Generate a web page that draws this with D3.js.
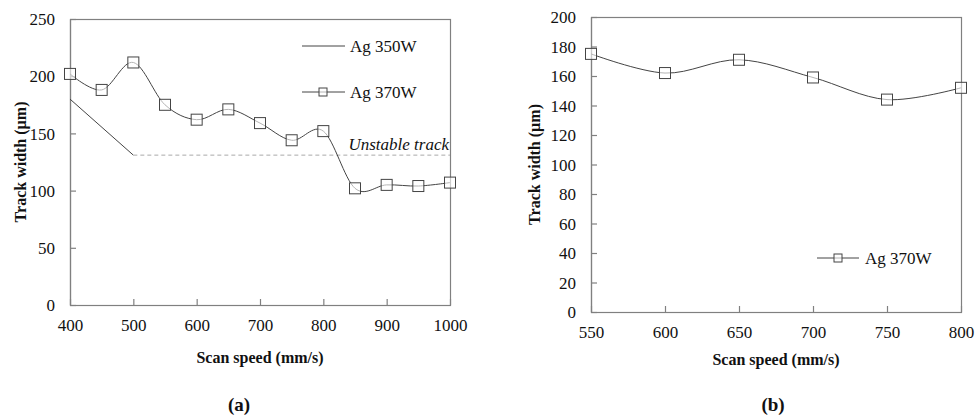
<!DOCTYPE html>
<html>
<head>
<meta charset="utf-8">
<script src="https://cdn.jsdelivr.net/npm/d3@7"></script>
<style>
  body { margin: 0; background: #fff; }
  svg, svg text { font-family: "Liberation Serif", "Times New Roman", Times, "DejaVu Serif", serif !important; }
</style>
</head>
<body>
<div id="chart"></div>
<script>
// Data
var speedsA = [400, 450, 500, 550, 600, 650, 700, 750, 800, 850, 900, 950, 1000];
var width370 = [202, 188, 212, 175, 162, 171, 159, 144, 152, 102, 105, 104, 107];
var speeds350 = [400, 500];
var width350 = [180, 131];
var unstableLevel = 131;
var unstableFrom = 500;
var unstableTo = 1000;

var speedsB = [550, 600, 650, 700, 750, 800];
var widthB = [175, 162, 171, 159, 144, 152];

var xTicksA = [400, 500, 600, 700, 800, 900, 1000];
var yTicksA = [0, 50, 100, 150, 200, 250];
var xTicksB = [550, 600, 650, 700, 750, 800];
var yTicksB = [0, 20, 40, 60, 80, 100, 120, 140, 160, 180, 200];

var svgWidth = 976;
var svgHeight = 419;

var axisColor = "#808080";
var lineColor = "#444";
var serif = "'Liberation Serif', 'Times New Roman', Times, 'DejaVu Serif', serif";

var svg = d3.select("#chart")
  .append("svg")
  .attr("width", svgWidth)
  .attr("height", svgHeight)
  .attr("font-family", serif);

// draws a boxed panel with inward ticks, returns scales + group
function drawPanel(opts) {
  var x = d3.scaleLinear().domain(opts.xDomain).range([opts.left, opts.right]);
  var y = d3.scaleLinear().domain(opts.yDomain).range([opts.bottom, opts.top]);
  var g = svg.append("g");

  // frame
  g.append("rect")
    .attr("x", opts.left + 0.5)
    .attr("y", opts.top + 0.5)
    .attr("width", opts.right - opts.left)
    .attr("height", opts.bottom - opts.top)
    .attr("fill", "none")
    .attr("stroke", axisColor)
    .attr("stroke-width", 1.2);

  var xAxis = d3.axisBottom(x).tickValues(opts.xTicks).tickFormat(d3.format("d"))
    .tickSizeInner(-6).tickSizeOuter(0).tickPadding(14);
  var yAxis = d3.axisLeft(y).tickValues(opts.yTicks).tickFormat(d3.format("d"))
    .tickSizeInner(-6).tickSizeOuter(0).tickPadding(15);

  var gx = g.append("g")
    .attr("transform", `translate(0, ${opts.bottom})`)
    .call(xAxis);
  var gy = g.append("g")
    .attr("transform", `translate(${opts.left}, 0)`)
    .call(yAxis);

  [gx, gy].forEach(function(a) {
    a.attr("font-family", serif).attr("font-size", 17);
    a.select(".domain").attr("stroke", axisColor).attr("stroke-width", 1.2);
    a.selectAll(".tick line").attr("stroke", axisColor).attr("stroke-width", 1.2);
    a.selectAll(".tick text").attr("fill", "#111");
  });
  gy.selectAll(".tick text").attr("dy", "0.34em");

  // axis titles
  g.append("text")
    .attr("x", (opts.left + opts.right) / 2)
    .attr("y", opts.xTitleY)
    .attr("text-anchor", "middle")
    .attr("font-weight", "bold")
    .attr("font-size", "16px")
    .attr("fill", "#111")
    .text("Scan speed (mm/s)");

  g.append("text")
    .attr("transform", `translate(${opts.yTitleX}, ${(opts.top + opts.bottom) / 2}) rotate(-90)`)
    .attr("text-anchor", "middle")
    .attr("dy", "0.35em")
    .attr("font-weight", "bold")
    .attr("font-size", "16px")
    .attr("fill", "#111")
    .text("Track width (\u00b5m)");

  g.append("text")
    .attr("x", opts.captionX)
    .attr("y", 411)
    .attr("text-anchor", "middle")
    .attr("font-weight", "bold")
    .attr("font-size", "19px")
    .attr("fill", "#111")
    .text(opts.caption);

  return { x: x, y: y, g: g };
}

function drawMarkers(g, xs, ys, size) {
  g.selectAll(null)
    .data(xs.map(function(d, i) { return [d, ys[i]]; }))
    .enter()
    .append("rect")
    .attr("x", d => d[0] - size / 2)
    .attr("y", d => d[1] - size / 2)
    .attr("width", size)
    .attr("height", size)
    .attr("fill", "#fff")
    .attr("fill-opacity", 0.6)
    .attr("stroke", lineColor)
    .attr("stroke-width", 1);
}

var smooth = d3.line().curve(d3.curveCardinal.tension(0));

// Panel (a)
// ==============================
var pa = drawPanel({
  left: 70, right: 450, top: 19, bottom: 305,
  xDomain: [400, 1000], yDomain: [0, 250],
  xTicks: xTicksA, yTicks: yTicksA,
  xTitleY: 363, yTitleX: 20, captionX: 239, caption: "(a)"
});

// 350W straight line then unstable dashed level
pa.g.append("path")
  .attr("d", d3.line()(speeds350.map((d, i) => [pa.x(d), pa.y(width350[i])])))
  .attr("fill", "none")
  .attr("stroke", lineColor)
  .attr("stroke-width", 1);

pa.g.append("line")
  .attr("x1", pa.x(unstableFrom))
  .attr("x2", pa.x(unstableTo))
  .attr("y1", pa.y(unstableLevel))
  .attr("y2", pa.y(unstableLevel))
  .attr("stroke", "#aaa")
  .attr("stroke-width", 1)
  .attr("stroke-dasharray", "4,3");

pa.g.append("text")
  .attr("x", pa.x(unstableTo) - 1)
  .attr("y", pa.y(unstableLevel) - 5)
  .attr("text-anchor", "end")
  .attr("font-style", "italic")
  .attr("font-size", "17px")
  .attr("fill", "#111")
  .text("Unstable track");

var ptsA = speedsA.map((d, i) => [pa.x(d), pa.y(width370[i])]);
pa.g.append("path")
  .attr("d", smooth(ptsA))
  .attr("fill", "none")
  .attr("stroke", lineColor)
  .attr("stroke-width", 1);
drawMarkers(pa.g, ptsA.map(p => p[0]), ptsA.map(p => p[1]), 11);

// legend (a)
var legA = pa.g.append("g");
legA.append("line").attr("x1", 302).attr("x2", 345).attr("y1", 46).attr("y2", 46)
  .attr("stroke", lineColor).attr("stroke-width", 1);
legA.append("text").attr("x", 350).attr("y", 46).attr("dy", "0.34em")
  .attr("font-size", "17px").attr("fill", "#111").text("Ag 350W");
legA.append("line").attr("x1", 302).attr("x2", 345).attr("y1", 92).attr("y2", 92)
  .attr("stroke", lineColor).attr("stroke-width", 1);
drawMarkers(legA, [323], [92], 8);
legA.append("text").attr("x", 350).attr("y", 92).attr("dy", "0.34em")
  .attr("font-size", "17px").attr("fill", "#111").text("Ag 370W");

// Panel (b)
// ==============================
var pb = drawPanel({
  left: 591, right: 961, top: 17, bottom: 312,
  xDomain: [550, 800], yDomain: [0, 200],
  xTicks: xTicksB, yTicks: yTicksB,
  xTitleY: 365, yTitleX: 534, captionX: 773, caption: "(b)"
});

var ptsB = speedsB.map((d, i) => [pb.x(d), pb.y(widthB[i])]);
pb.g.append("path")
  .attr("d", smooth(ptsB))
  .attr("fill", "none")
  .attr("stroke", lineColor)
  .attr("stroke-width", 1);
drawMarkers(pb.g, ptsB.map(p => p[0]), ptsB.map(p => p[1]), 11);

// legend (b)
var legB = pb.g.append("g");
legB.append("line").attr("x1", 817).attr("x2", 859).attr("y1", 258).attr("y2", 258)
  .attr("stroke", lineColor).attr("stroke-width", 1);
drawMarkers(legB, [838], [258], 8);
legB.append("text").attr("x", 865).attr("y", 258).attr("dy", "0.34em")
  .attr("font-size", "17px").attr("fill", "#111").text("Ag 370W");
</script>
</body>
</html>
